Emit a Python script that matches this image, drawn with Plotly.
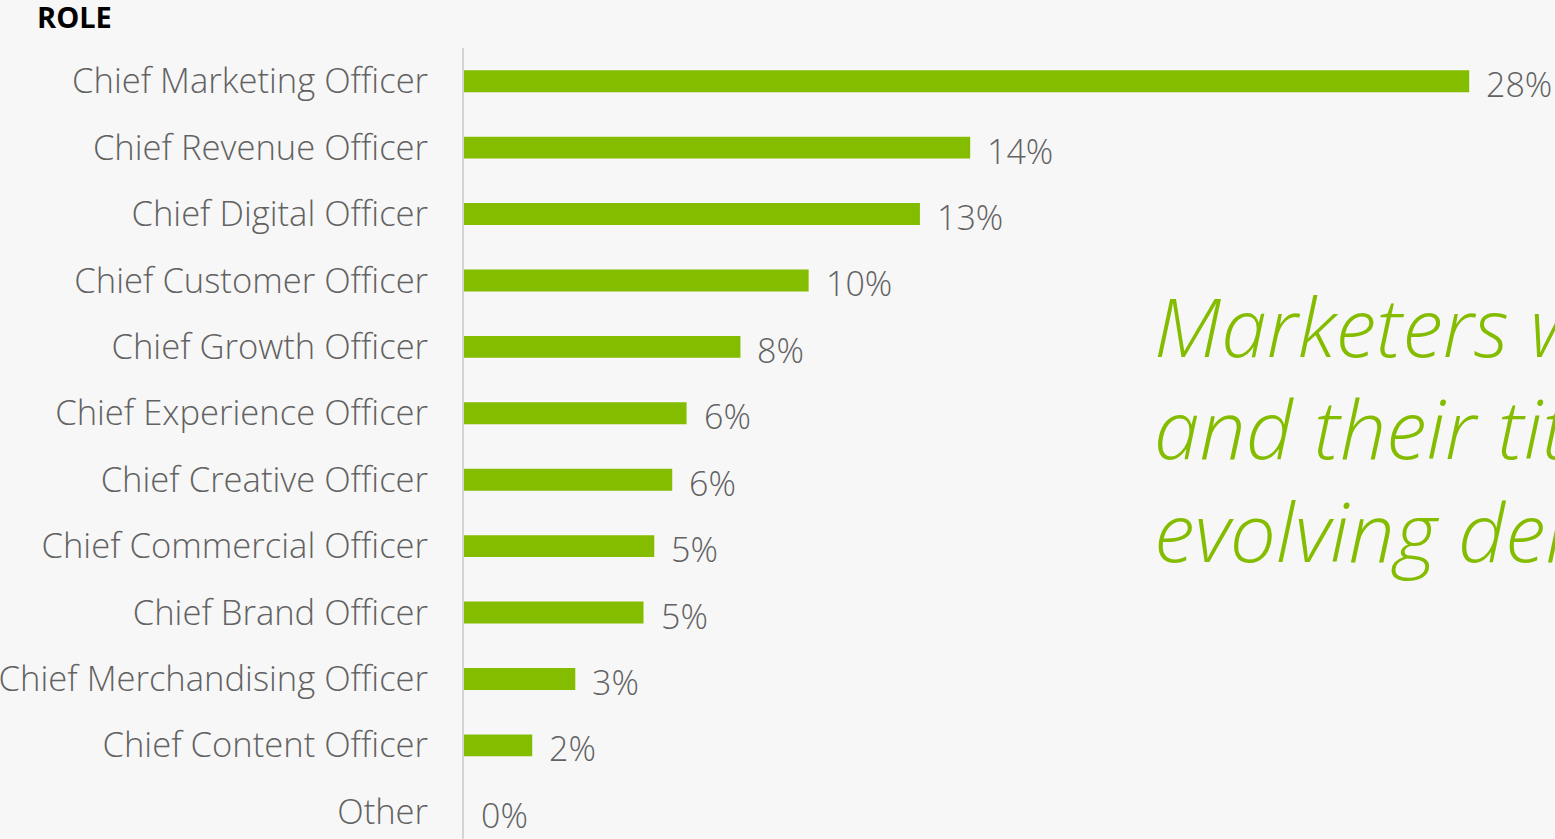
import plotly.graph_objects as go

roles = ["Chief Marketing Officer", "Chief Revenue Officer", "Chief Digital Officer",
         "Chief Customer Officer", "Chief Growth Officer", "Chief Experience Officer",
         "Chief Creative Officer", "Chief Commercial Officer", "Chief Brand Officer",
         "Chief Merchandising Officer", "Chief Content Officer", "Other"]
shares = [28.0, 14.1, 12.7, 9.6, 7.7, 6.2, 5.8, 5.3, 5.0, 3.1, 1.9, 0.0]
share_labels = ["28%", "14%", "13%", "10%", "8%", "6%", "6%", "5%", "5%", "3%", "2%", "0%"]
callout_lines = ["Marketers wear many hats,", "and their titles reflect", "evolving demands"]

GREEN = "#84bd00"
GRAY = "#626262"
BG = "#f7f7f7"
FONT = "Open Sans"

fig = go.Figure()
fig.add_trace(go.Bar(
    x=shares, y=roles, orientation="h",
    marker=dict(color=GREEN, line=dict(width=0)),
    hoverinfo="skip",
))

annotations = []
for r, v, lab in zip(roles, shares, share_labels):
    annotations.append(dict(
        x=v, y=r, xref="x", yref="y", text=lab, showarrow=False,
        xanchor="left", yanchor="middle", xshift=15, yshift=-3,
        font=dict(family=FONT, size=34, color=GRAY, weight=300),
    ))

callout_y = [0.650, 0.521, 0.391]
for line, yy in zip(callout_lines, callout_y):
    annotations.append(dict(
        x=0.6310, y=yy, xref="paper", yref="paper", text=line, showarrow=False,
        xanchor="left", yanchor="middle", align="left",
        font=dict(family=FONT, size=82, color=GREEN, style="italic", weight=300),
    ))

fig.update_layout(
    width=1555, height=839,
    margin=dict(l=464, r=0, t=48, b=0, autoexpand=False),
    paper_bgcolor=BG, plot_bgcolor=BG,
    bargap=0.67,
    showlegend=False,
    title=dict(text="<b>ROLE</b>", x=37 / 1555, xanchor="left", y=1 - 18 / 839, yanchor="middle",
               font=dict(family=FONT, size=29, color="#000000")),
    xaxis=dict(range=[0, 30.39], showgrid=False, zeroline=False, showticklabels=False,
               showline=False, fixedrange=True, automargin=False),
    yaxis=dict(range=[11.41, -0.5], showgrid=False, zeroline=False, showline=True,
               linecolor="#d4d4d4", linewidth=2, ticks="", ticklabelstandoff=27,
               tickfont=dict(family=FONT, size=34.6, color=GRAY, weight=300),
               fixedrange=True, automargin=False),
    annotations=annotations,
)

fig.write_html("out.html")
